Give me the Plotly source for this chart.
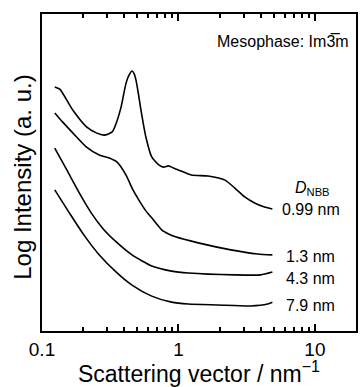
import plotly.graph_objects as go

# Scattering vector (nm^-1) and log intensity (a.u.)
q_099 = [0.124, 0.135, 0.168, 0.212, 0.250, 0.286, 0.327, 0.356, 0.380, 0.396, 0.413, 0.435, 0.457,
         0.473, 0.488, 0.508, 0.531, 0.577, 0.637, 0.717, 0.779, 0.846, 0.920, 1.0, 1.242, 1.650,
         2.191, 2.588, 3.059, 3.614, 4.271, 4.879]
I_099 = [7.70, 7.63, 6.97, 6.44, 6.25, 6.18, 6.28, 6.65, 7.07, 7.45, 7.82, 8.08, 8.20,
         8.12, 7.92, 7.50, 6.97, 6.12, 5.49, 5.24, 5.17, 5.21, 5.14, 5.08, 4.92, 4.89,
         4.76, 4.51, 4.23, 4.04, 3.91, 3.85]

q_13 = [0.124, 0.142, 0.168, 0.212, 0.263, 0.311, 0.355, 0.413, 0.457, 0.513, 0.577, 0.637,
        0.753, 0.846, 0.951, 1.396, 2.420, 3.798, 4.879]
I_13 = [6.88, 6.59, 6.25, 5.80, 5.55, 5.46, 5.33, 4.92, 4.51, 4.13, 3.79, 3.57,
        3.19, 3.06, 2.97, 2.78, 2.56, 2.43, 2.40]

q_43 = [0.124, 0.152, 0.188, 0.230, 0.281, 0.350, 0.457, 0.637, 0.890, 1.182, 2.588, 3.990, 4.879]
I_43 = [5.77, 5.08, 4.35, 3.72, 3.22, 2.81, 2.40, 2.05, 1.89, 1.83, 1.77, 1.77, 1.86]

q_79 = [0.124, 0.159, 0.205, 0.263, 0.350, 0.457, 0.637, 0.890, 1.182, 1.950, 3.379, 4.490, 4.879]
I_79 = [4.45, 3.72, 3.00, 2.40, 1.86, 1.45, 1.10, 0.91, 0.85, 0.82, 0.79, 0.85, 0.91]

series = [(q_099, I_099), (q_13, I_13), (q_43, I_43), (q_79, I_79)]
size_labels = ["0.99 nm", "1.3 nm", "4.3 nm", "7.9 nm"]
label_y = [0.382, 0.235, 0.165, 0.082]
x_ticks = [0.1, 1, 10]
x_minor = [0.2, 0.3, 0.4, 0.5, 0.6, 0.7, 0.8, 0.9, 2, 3, 4, 5, 6, 7, 8, 9, 20]

FONT = "Liberation Sans, Arial, sans-serif"

fig = go.Figure()
for q, inten in series:
    fig.add_trace(go.Scatter(x=q, y=inten, mode="lines",
                             line=dict(color="black", width=1.6, shape="spline", smoothing=0.6),
                             showlegend=False, hoverinfo="skip"))

for lab, yp in zip(size_labels, label_y):
    fig.add_annotation(text=lab, xref="paper", yref="paper", x=0.757 if lab == "0.99 nm" else 0.77, y=yp,
                       xanchor="left", yanchor="middle", showarrow=False,
                       font=dict(size=16, color="black", family=FONT))

fig.add_annotation(text="<i>D</i><sub>NBB</sub>", xref="paper", yref="paper", x=0.80, y=0.45,
                   xanchor="left", yanchor="middle", showarrow=False,
                   font=dict(size=16, color="black", family=FONT))
fig.add_annotation(text="Mesophase: Im3\u0305m", xref="paper", yref="paper", x=0.985, y=0.912,
                   xanchor="right", yanchor="middle", showarrow=False,
                   font=dict(size=16, color="black", family=FONT))
fig.add_annotation(text="Log Intensity (a. u.)", xref="paper", yref="paper", x=-0.062, y=0.485,
                   xanchor="center", yanchor="middle", textangle=-90, showarrow=False,
                   font=dict(size=24, color="black", family=FONT))

fig.update_layout(
    width=360, height=387,
    margin=dict(l=42, r=2, t=14, b=56),
    paper_bgcolor="white", plot_bgcolor="white",
    font=dict(family=FONT, color="black"),
    xaxis=dict(type="log", range=[-1, 1.301], tickmode="array", tickvals=x_ticks,
               ticktext=["0.1", "1", "10"], ticks="inside", ticklen=7, tickwidth=1.5,
               tickcolor="black", showline=True, linewidth=2, linecolor="black", mirror="allticks",
               showgrid=False, zeroline=False, tickfont=dict(size=19),
               minor=dict(tickmode="array", tickvals=x_minor, ticks="inside", ticklen=4,
                          tickwidth=1.5, tickcolor="black", showgrid=False),
               title=dict(text="Scattering vector / nm<sup>\u22121</sup>", font=dict(size=23), standoff=2)),
    yaxis=dict(range=[0, 10], showticklabels=False, ticks="", showline=True, linewidth=2,
               linecolor="black", mirror=True, showgrid=False, zeroline=False),
)

fig.write_html("out.html")
